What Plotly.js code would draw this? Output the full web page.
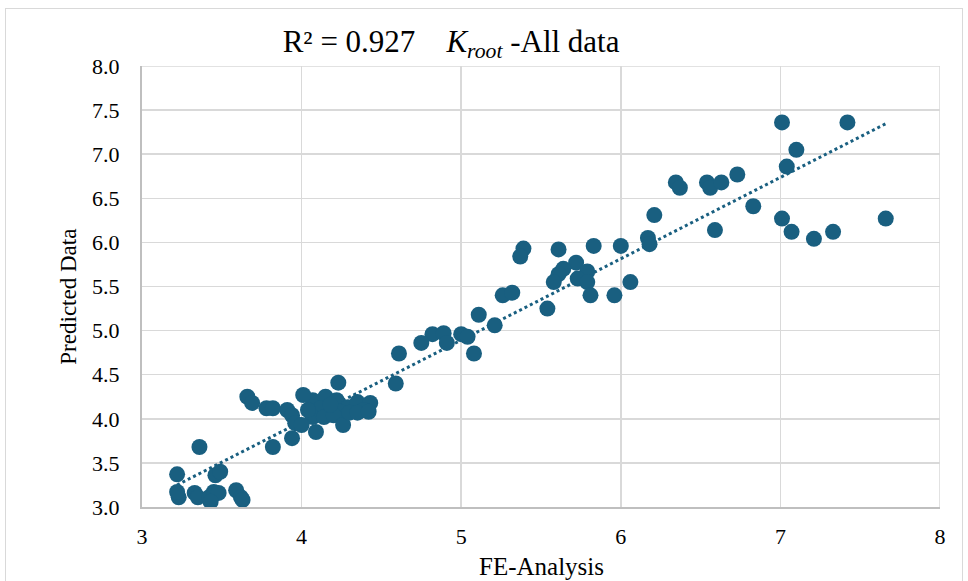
<!DOCTYPE html>
<html>
<head>
<meta charset="utf-8">
<script src="https://cdn.plot.ly/plotly-3.0.1.min.js"></script>
<style>
html,body{margin:0;padding:0;background:#fff;}
#wrap{position:relative;width:968px;height:581px;overflow:hidden;}
#chart{width:968px;height:581px;}
#frame{position:absolute;left:5px;top:8px;width:956px;height:620px;border:1.5px solid #d9d9d9;pointer-events:none;}
</style>
</head>
<body>
<div id="wrap"><div id="chart"></div><div id="frame"></div></div>
<script>
// FE-Analysis values (x)
const feAnalysis = [
  7.01, 7.42, 7.10, 7.04, 6.345, 6.37, 6.54, 6.56, 6.63, 6.73,
  6.21, 6.83, 7.01, 7.07, 7.21, 7.33, 7.66, 6.59, 6.17, 6.18,
  6.00, 5.83, 5.39, 5.37, 5.61, 5.72, 5.64, 5.61, 5.58, 5.79,
  5.73, 5.79, 5.81, 5.96, 6.06, 5.26, 5.32, 5.54, 5.11, 5.21,
  5.00, 5.04, 4.82, 4.89, 4.91, 4.75, 5.08, 4.61, 4.59,
  3.91, 3.94, 3.96, 4.07, 4.15, 4.12, 4.22, 4.29, 4.24, 4.35,
  4.43, 4.39, 4.07, 4.14, 4.20, 4.26, 4.09, 3.94, 4.00, 4.30,
  4.35, 4.42, 4.01, 4.23, 4.04, 4.18,
  3.66, 3.69, 3.78, 3.82, 3.82,
  3.22, 3.23, 3.22, 3.33, 3.35, 3.42, 3.45, 3.46, 3.49, 3.48,
  3.59, 3.62, 3.43, 3.36, 3.63
];
// Predicted Data values (y)
const predicted = [
  7.36, 7.36, 7.05, 6.86, 6.68, 6.62, 6.68, 6.62, 6.68, 6.77,
  6.31, 6.41, 6.27, 6.12, 6.04, 6.12, 6.27, 6.14, 6.05, 5.98,
  5.96, 5.96, 5.93, 5.84, 5.92, 5.77, 5.70, 5.64, 5.55, 5.67,
  5.59, 5.55, 5.40, 5.40, 5.55, 5.40, 5.43, 5.25, 5.18, 5.06,
  4.96, 4.93, 4.96, 4.97, 4.86, 4.86, 4.74, 4.74, 4.40,
  4.10, 4.04, 3.95, 4.21, 4.25, 4.12, 4.21, 4.13, 4.08, 4.19,
  4.18, 4.10, 4.02, 4.02, 4.04, 3.93, 3.85, 3.78, 3.93, 4.07,
  4.07, 4.08, 4.27, 4.41, 4.10, 4.16,
  4.25, 4.18, 4.12, 4.12, 3.68,
  3.37, 3.11, 3.17, 3.16, 3.11, 3.11, 3.17, 3.36, 3.40, 3.16,
  3.19, 3.11, 3.06, 3.68, 3.08
];
const xTicks = [3, 4, 5, 6, 7, 8];
const yTicks = [3.0, 3.5, 4.0, 4.5, 5.0, 5.5, 6.0, 6.5, 7.0, 7.5, 8.0];
const titleText = 'R² = 0.927&#160;&#160;&#160;&#160;<i>K</i><sub><i>root</i></sub> -All data';
const xTitle = 'FE-Analysis';
const yTitle = 'Predicted Data';

// least-squares trendline
const n = feAnalysis.length;
let sx=0, sy=0, sxx=0, sxy=0;
for (let i=0;i<n;i++){sx+=feAnalysis[i];sy+=predicted[i];sxx+=feAnalysis[i]*feAnalysis[i];sxy+=feAnalysis[i]*predicted[i];}
const slope = (n*sxy - sx*sy)/(n*sxx - sx*sx);
const intercept = (sy - slope*sx)/n;
const xmin = Math.min(...feAnalysis), xmax = Math.max(...feAnalysis);
const trendX = [xmin, xmax];
const trendY = trendX.map(v => slope*v + intercept);

const col = '#195f80';
const font = 'Liberation Serif';

Plotly.newPlot('chart', [
  {x: trendX, y: trendY, mode: 'lines', line: {color: col, width: 3, dash: 'dot'}, hoverinfo: 'skip', showlegend: false},
  {x: feAnalysis, y: predicted, mode: 'markers', marker: {color: col, size: 16}, showlegend: false}
], {
  width: 968, height: 581,
  margin: {l: 141.5, r: 28, t: 66, b: 74},
  paper_bgcolor: '#fff', plot_bgcolor: '#fff',
  font: {family: font, color: '#000', size: 22},
  title: {text: titleText, x: 0.466, xanchor: 'center', y: 0.93, yanchor: 'middle', font: {family: font, size: 31, color: '#000'}},
  xaxis: {range: [3, 8], tickvals: xTicks, ticktext: xTicks.map(String), showgrid: true, gridcolor: '#d9d9d9', gridwidth: 1.5,
    zeroline: false, showline: true, linecolor: '#bfbfbf', linewidth: 2, ticks: '', ticklen: 0, ticklabelstandoff: 9,
    tickfont: {size: 22, family: font, color: '#000'}},
  yaxis: {range: [3, 8], tickvals: yTicks, ticktext: yTicks.map(v => v.toFixed(1)), showgrid: true, gridcolor: '#d9d9d9', gridwidth: 1.5,
    zeroline: false, showline: true, linecolor: '#bfbfbf', linewidth: 2, ticks: '', ticklen: 0, ticklabelstandoff: 16,
    tickfont: {size: 22, family: font, color: '#000'}},
  annotations: [
    {text: xTitle, xref: 'paper', yref: 'paper', x: 0.5, y: -0.134, xanchor: 'center', yanchor: 'middle', showarrow: false, font: {size: 25, family: font, color: '#000'}},
    {text: yTitle, xref: 'paper', yref: 'paper', x: -0.092, y: 0.476, xanchor: 'center', yanchor: 'middle', textangle: -90, showarrow: false, font: {size: 23, family: font, color: '#000'}}
  ],
  shapes: [
    {type: 'line', xref: 'x', yref: 'y', x0: 8, x1: 8, y0: 3, y1: 8, line: {color: '#d9d9d9', width: 1.5}},
    {type: 'line', xref: 'x', yref: 'y', x0: 3, x1: 8, y0: 8, y1: 8, line: {color: '#d9d9d9', width: 1.5}}
  ]
}, {displayModeBar: false, staticPlot: true});
</script>
</body>
</html>
